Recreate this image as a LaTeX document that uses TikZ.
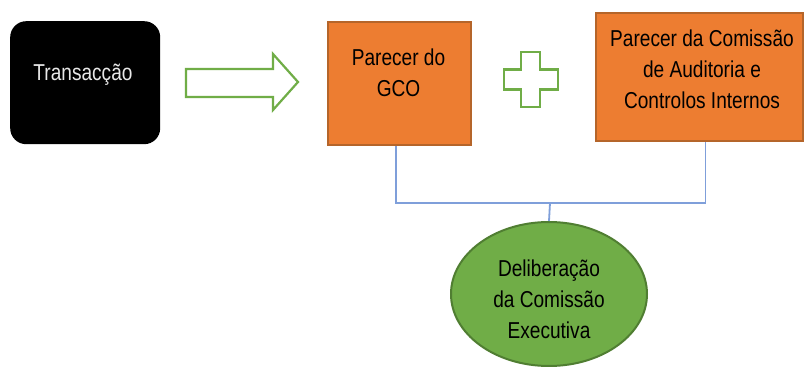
\documentclass[tikz,border=0pt]{standalone}
\usepackage{fontspec}
\setmainfont[FakeStretch=0.83]{Liberation Sans}
\usetikzlibrary{shapes.geometric}
\definecolor{orfill}{HTML}{ED7D31}
\definecolor{ordraw}{HTML}{B5652A}
\definecolor{grfill}{HTML}{70AD47}
\definecolor{grdraw}{HTML}{507E32}
\definecolor{grline}{HTML}{70AD47}
\definecolor{bl}{HTML}{7F9FDA}
\definecolor{lt}{HTML}{E8E8E8}
\begin{document}
\begin{tikzpicture}[x=1pt,y=-1pt,
  font=\fontsize{23}{31}\selectfont,
  orbox/.style={draw=ordraw, fill=orfill, line width=2pt, inner sep=0pt, anchor=north west},
  blackbox/.style={fill=black, rounded corners=16pt, inner sep=0pt, anchor=north west},
  txt/.style={inner sep=0pt, align=center, text=black},
  conn/.style={draw=bl, line width=1.8pt},
  outlinegreen/.style={draw=grline, line width=2.2pt, fill=white, line join=miter}]
\useasboundingbox[fill=white] (0,0) rectangle (804,367);

\node[blackbox, minimum width=150pt, minimum height=123pt] (trans) at (10,21) {};
\node[txt, text=lt, anchor=base] (transt) at (83,80) {Transacção};

\draw[outlinegreen] (186,69) -- (273,69) -- (273,54) -- (298,82) -- (273,110) -- (273,97) -- (186,97) -- cycle;

\node[orbox, minimum width=143pt, minimum height=123pt] (gco) at (327,21) {};
\node[txt] (gcot) at (398.5,73) {Parecer do\\GCO};

\draw[outlinegreen] (521,52) -- (540,52) -- (540,69.5) -- (558,69.5) -- (558,89.5) -- (540,89.5) -- (540,107) -- (521,107) -- (521,89.5) -- (504,89.5) -- (504,69.5) -- (521,69.5) -- cycle;

\node[orbox, minimum width=207pt, minimum height=128pt] (cai) at (595,12) {};
\node[txt] (cait) at (702,69) {Parecer da Comissão\\de Auditoria e\\Controlos Internos};

\node[ellipse, draw=grdraw, fill=grfill, line width=2pt, minimum width=196pt, minimum height=144pt, inner sep=0pt] (del) at (549,294) {};
\node[txt] (delt) at (549,299) {Deliberação\\da Comissão\\Executiva};

\coordinate (j) at (550,203);
\draw[conn] ([xshift=-3.5pt]gco.south) |- ([xshift=6pt]cai.south |- j) -- ([xshift=6pt]cai.south);
\draw[conn] (j) -- (del.north);
\end{tikzpicture}
\end{document}
